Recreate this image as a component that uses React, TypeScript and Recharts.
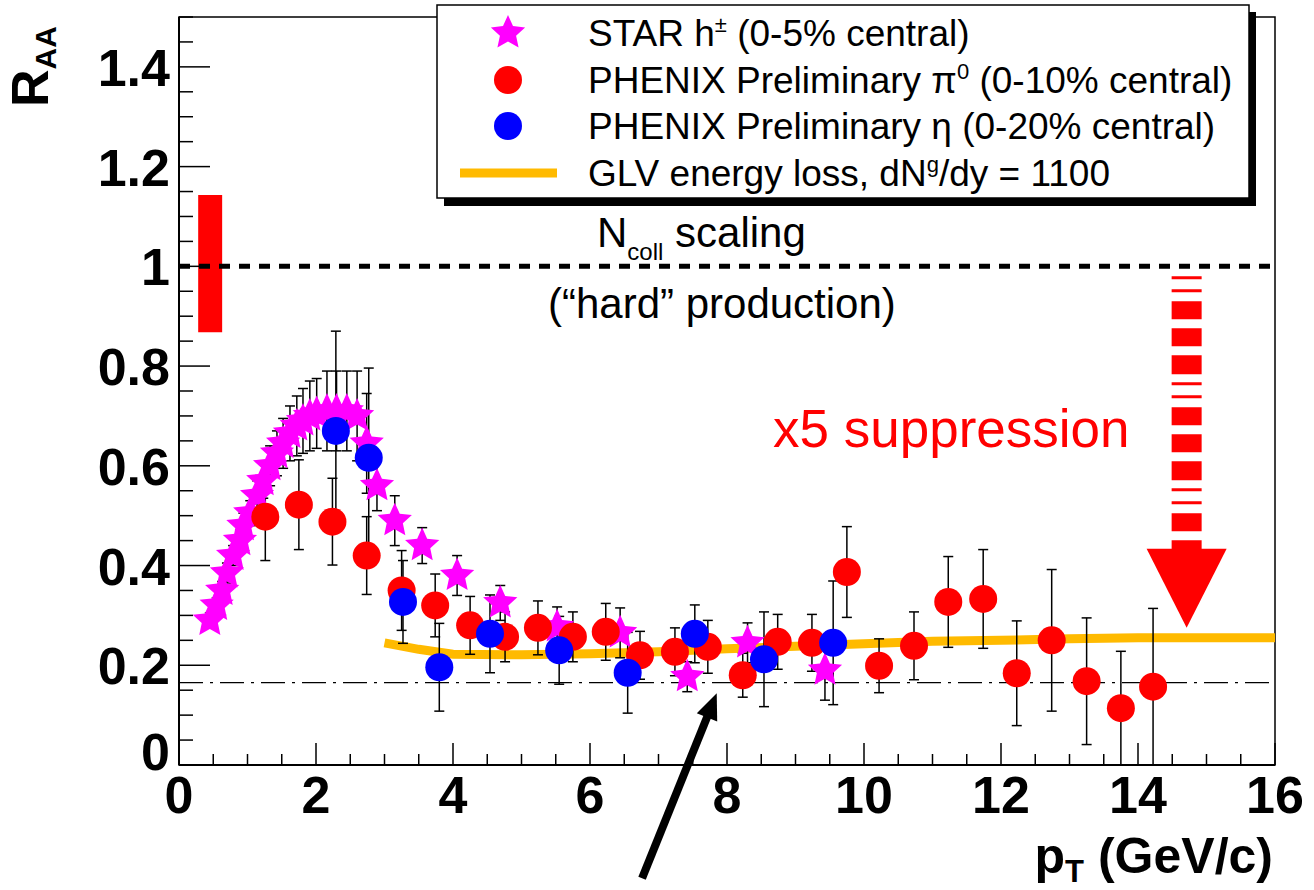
import React from 'react';
import {
  ComposedChart, XAxis, YAxis, Scatter, Line, ErrorBar,
  ReferenceLine, ReferenceArea, ReferenceDot,
} from 'recharts';

// ---------- data ----------
const starPt = [0.45, 0.55, 0.63, 0.70, 0.79, 0.89, 0.94, 1.04, 1.14, 1.23, 1.33, 1.43, 1.52, 1.62, 1.72, 1.81, 1.91, 2.01, 2.16, 2.30, 2.45, 2.60, 2.74, 2.89, 3.15, 3.55, 4.06, 4.69, 5.52, 6.44, 7.42, 8.30, 9.43];
const starRaa = [0.29, 0.32, 0.35, 0.385, 0.42, 0.45, 0.48, 0.505, 0.54, 0.57, 0.60, 0.625, 0.645, 0.665, 0.68, 0.69, 0.70, 0.705, 0.71, 0.71, 0.71, 0.70, 0.645, 0.56, 0.49, 0.44, 0.38, 0.325, 0.277, 0.265, 0.177, 0.245, 0.19];
const starErr = [0.015, 0.015, 0.018, 0.02, 0.02, 0.022, 0.025, 0.025, 0.03, 0.035, 0.04, 0.045, 0.05, 0.055, 0.06, 0.065, 0.07, 0.07, 0.08, 0.08, 0.08, 0.09, 0.1, 0.05, 0.05, 0.036, 0.04, 0.035, 0.04, 0.05, 0.03, 0.04, 0.06];

const pi0Pt = [1.26, 1.75, 2.24, 2.74, 3.25, 3.74, 4.25, 4.76, 5.24, 5.75, 6.23, 6.73, 7.24, 7.72, 8.23, 8.74, 9.24, 9.75, 10.22, 10.73, 11.23, 11.74, 12.23, 12.74, 13.25, 13.75, 14.22];
const pi0Raa = [0.498, 0.522, 0.488, 0.42, 0.35, 0.32, 0.28, 0.257, 0.275, 0.257, 0.267, 0.22, 0.227, 0.237, 0.18, 0.247, 0.245, 0.387, 0.199, 0.239, 0.327, 0.333, 0.184, 0.25, 0.168, 0.114, 0.157];
const pi0Err = [0.088, 0.09, 0.087, 0.078, 0.08, 0.063, 0.058, 0.05, 0.054, 0.05, 0.057, 0.048, 0.048, 0.053, 0.044, 0.055, 0.057, 0.091, 0.054, 0.068, 0.091, 0.099, 0.105, 0.142, 0.127, 0.114, 0.157];

const etaPt = [2.29, 2.77, 3.27, 3.80, 4.54, 5.55, 6.55, 7.53, 8.54, 9.55];
const etaRaa = [0.67, 0.616, 0.327, 0.196, 0.263, 0.23, 0.185, 0.263, 0.212, 0.245];
const etaErr = [0.2, 0.18, 0.083, 0.088, 0.078, 0.068, 0.081, 0.058, 0.095, 0.124];

const glvPt = [3.0, 3.5, 4.0, 5.0, 6.0, 7.0, 8.0, 9.0, 10.0, 11.0, 12.0, 13.0, 14.0, 16.0];
const glvRaa = [0.245, 0.232, 0.222, 0.221, 0.223, 0.227, 0.233, 0.238, 0.243, 0.248, 0.25, 0.253, 0.255, 0.255];

const xTicks = [0, 0.5, 1, 1.5, 2, 2.5, 3, 3.5, 4, 4.5, 5, 5.5, 6, 6.5, 7, 7.5, 8, 8.5, 9, 9.5, 10, 10.5, 11, 11.5, 12, 12.5, 13, 13.5, 14, 14.5, 15, 15.5, 16];
const xMajor = [0, 2, 4, 6, 8, 10, 12, 14, 16];
const yTicks = [0, 0.05, 0.1, 0.15, 0.2, 0.25, 0.3, 0.35, 0.4, 0.45, 0.5, 0.55, 0.6, 0.65, 0.7, 0.75, 0.8, 0.85, 0.9, 0.95, 1, 1.05, 1.1, 1.15, 1.2, 1.25, 1.3, 1.35, 1.4, 1.45, 1.5];
const yMajor = [0, 0.2, 0.4, 0.6, 0.8, 1, 1.2, 1.4];
const yLabels = ['0', '0.2', '0.4', '0.6', '0.8', '1', '1.2', '1.4'];

const nCollLevel = 1.0;
const pp5Level = 0.165;
const normBox = { x1: 0.28, x2: 0.63, y1: 0.868, y2: 1.143 };
const suppArrow = { x: 14.71, yTop: 0.98, yHeadBase: 0.433, yTip: 0.275 };
const blackArrow = { xTail: 6.76, yTail: -0.227, xTip: 7.85, yTip: 0.144 };

const starData = starPt.map((x, i) => ({ x, y: starRaa[i], e: starErr[i] }));
const pi0Data = pi0Pt.map((x, i) => ({ x, y: pi0Raa[i], e: pi0Err[i] }));
const etaData = etaPt.map((x, i) => ({ x, y: etaRaa[i], e: etaErr[i] }));
const glvData = glvPt.map((x, i) => ({ x, y: glvRaa[i] }));

// ---------- styles ----------
const FONT = 'Liberation Sans, Arial, Helvetica, sans-serif';
const MAGENTA = '#FF00FF';
const RED = '#FF0000';
const BLUE = '#0000FF';
const GOLD = '#FFBA00';

function starPoints(cx: number, cy: number, R: number, r: number) {
  const pts: string[] = [];
  for (let i = 0; i < 10; i++) {
    const a = -Math.PI / 2 + (i * Math.PI) / 5;
    const rad = i % 2 === 0 ? R : r;
    pts.push(`${cx + rad * Math.cos(a)},${cy + rad * Math.sin(a)}`);
  }
  return pts.join(' ');
}

const StarShape = (p: any) => <polygon points={starPoints(p.cx, p.cy, 18, 8.5)} fill={MAGENTA} />;
const RedDot = (p: any) => <circle cx={p.cx} cy={p.cy} r={14} fill={RED} />;
const BlueDot = (p: any) => <circle cx={p.cx} cy={p.cy} r={14} fill={BLUE} />;

const XTick = (props: any) => {
  const { x, y, payload } = props;
  const v = payload.value;
  const major = xMajor.some((m) => Math.abs(m - v) < 1e-6);
  return (
    <g>
      <line x1={x} y1={y} x2={x} y2={y - (major ? 22 : 11)} stroke="#000" strokeWidth={1.5} />
      {major && (
        <text x={x} y={y + 48} textAnchor="middle" fontFamily={FONT} fontWeight="bold" fontSize={52} fill="#000">
          {String(v)}
        </text>
      )}
    </g>
  );
};

const YTick = (props: any) => {
  const { x, y, payload } = props;
  const v = payload.value;
  const idx = yMajor.findIndex((m) => Math.abs(m - v) < 1e-6);
  const major = idx >= 0;
  return (
    <g>
      <line x1={x} y1={y} x2={x + (major ? 31 : 14)} y2={y} stroke="#000" strokeWidth={1.5} />
      {major && (
        <text x={x - 9} y={v === 0 ? y + 5 : y + 19} textAnchor="end" fontFamily={FONT} fontWeight="bold" fontSize={52} fill="#000">
          {yLabels[idx]}
        </text>
      )}
    </g>
  );
};

const ArrowShape = (p: any) => {
  const { x1, y1, x2, y2 } = p;
  const dx = x2 - x1, dy = y2 - y1;
  const L = Math.sqrt(dx * dx + dy * dy);
  const ux = dx / L, uy = dy / L;
  const hl = 26, hw = 11;
  const bx = x2 - ux * hl, by = y2 - uy * hl;
  return (
    <g>
      <line x1={x1} y1={y1} x2={bx + ux * 2} y2={by + uy * 2} stroke="#000" strokeWidth={8} />
      <polygon points={`${x2},${y2} ${bx - uy * hw},${by + ux * hw} ${bx + uy * hw},${by - ux * hw}`} fill="#000" />
    </g>
  );
};

const TriangleShape = (p: any) => {
  const { cx, cy } = p;
  return <polygon points={`${cx},${cy} ${cx - 40},${cy - 79} ${cx + 40},${cy - 79}`} fill={RED} />;
};

export default function App() {
  return (
    <div style={{ position: 'absolute', left: 0, top: 0, width: 1314, height: 890, background: '#fff', overflow: 'hidden' }}>
      <ComposedChart width={1314} height={890} margin={{ top: 17, right: 39, left: 0, bottom: 0 }}>
        <XAxis
          type="number"
          dataKey="x"
          domain={[0, 16]}
          ticks={xTicks}
          interval={0}
          allowDataOverflow
          height={125}
          tickSize={0}
          tickMargin={0}
          axisLine={{ stroke: '#000', strokeWidth: 2 }}
          tick={(p: any) => <XTick {...p} />}
        />
        <YAxis
          type="number"
          domain={[0, 1.5]}
          ticks={yTicks}
          interval={0}
          allowDataOverflow
          width={179}
          tickSize={0}
          tickMargin={0}
          axisLine={{ stroke: '#000', strokeWidth: 2 }}
          tick={(p: any) => <YTick {...p} />}
        />
        <ReferenceArea x1={0} x2={16} y1={0} y2={1.5} fill="none" stroke="#000" strokeWidth={1.5} ifOverflow="visible" />
        <ReferenceArea x1={normBox.x1} x2={normBox.x2} y1={normBox.y1} y2={normBox.y2} fill={RED} fillOpacity={1} stroke="none" />
        <ReferenceLine y={nCollLevel} stroke="#000" strokeWidth={5} strokeDasharray="11 9" />
        <ReferenceLine y={pp5Level} stroke="#000" strokeWidth={1.2} strokeDasharray="24 7 3 7" />
        <ReferenceLine
          segment={[{ x: suppArrow.x, y: suppArrow.yTop }, { x: suppArrow.x, y: suppArrow.yHeadBase }]}
          stroke={RED}
          strokeWidth={30}
          strokeDasharray="3 10 3 9 18 9 18 9 19 8"
        />
        <ReferenceDot x={suppArrow.x} y={suppArrow.yTip} r={1} shape={(p: any) => <TriangleShape {...p} />} />
        <Line data={glvData} dataKey="y" type="linear" stroke={GOLD} strokeWidth={9} dot={false} isAnimationActive={false} />
        <Scatter data={starData} dataKey="y" shape={(p: any) => <StarShape {...p} />} isAnimationActive={false}>
          <ErrorBar dataKey="e" direction="y" width={5} stroke="#000" strokeWidth={1.5} isAnimationActive={false} />
        </Scatter>
        <Scatter data={pi0Data} dataKey="y" shape={(p: any) => <RedDot {...p} />} isAnimationActive={false}>
          <ErrorBar dataKey="e" direction="y" width={5} stroke="#000" strokeWidth={1.5} isAnimationActive={false} />
        </Scatter>
        <Scatter data={etaData} dataKey="y" shape={(p: any) => <BlueDot {...p} />} isAnimationActive={false}>
          <ErrorBar dataKey="e" direction="y" width={5} stroke="#000" strokeWidth={1.5} isAnimationActive={false} />
        </Scatter>
        <ReferenceLine
          segment={[{ x: blackArrow.xTail, y: blackArrow.yTail }, { x: blackArrow.xTip, y: blackArrow.yTip }]}
          ifOverflow="visible"
          shape={(p: any) => <ArrowShape {...p} />}
        />
      </ComposedChart>

      <svg width={1314} height={890} style={{ position: 'absolute', left: 0, top: 0, pointerEvents: 'none' }} fontFamily={FONT}>
        {/* legend */}
        <rect x={444} y={12} width={812} height={194} fill="#000" />
        <rect x={437} y={5} width={812} height={193} fill="#fff" stroke="#000" strokeWidth={1.5} />
        <polygon points={starPoints(508, 33, 18, 8.5)} fill={MAGENTA} />
        <circle cx={508} cy={80} r={14} fill={RED} />
        <circle cx={508} cy={126} r={14} fill={BLUE} />
        <line x1={460} y1={173} x2={557} y2={173} stroke={GOLD} strokeWidth={9} />
        <text x={588} y={46} fontSize={37} fill="#000">
          STAR h<tspan fontSize={22} dy={-14}>±</tspan><tspan dy={14}>{' (0-5% central)'}</tspan>
        </text>
        <text x={588} y={93} fontSize={37} fill="#000">
          PHENIX Preliminary π<tspan fontSize={22} dy={-14}>0</tspan><tspan dy={14}>{' (0-10% central)'}</tspan>
        </text>
        <text x={588} y={139} fontSize={37} fill="#000">
          PHENIX Preliminary η (0-20% central)
        </text>
        <text x={588} y={186} fontSize={37} fill="#000">
          GLV energy loss, dN<tspan fontSize={22} dy={-14}>g</tspan><tspan dy={14}>{'/dy = 1100'}</tspan>
        </text>

        {/* annotations */}
        <text x={597} y={247} fontSize={42} fill="#000">
          N<tspan fontSize={24} dy={13}>coll</tspan><tspan dy={-13}>{' scaling'}</tspan>
        </text>
        <text x={548} y={318} fontSize={42} fill="#000">(“hard” production)</text>
        <text x={773} y={447} fontSize={53} fill={RED}>x5 suppression</text>

        {/* axis titles */}
        <text transform="translate(48,107) rotate(-90)" fontSize={52} fontWeight="bold" fill="#000">
          R<tspan fontSize={30} dy={8}>AA</tspan>
        </text>
        <text x={1273} y={873} textAnchor="end" fontSize={50} fontWeight="bold" fill="#000">
          p<tspan fontSize={31} dy={9}>T</tspan><tspan dy={-9}>{' (GeV/c)'}</tspan>
        </text>
      </svg>
    </div>
  );
}
